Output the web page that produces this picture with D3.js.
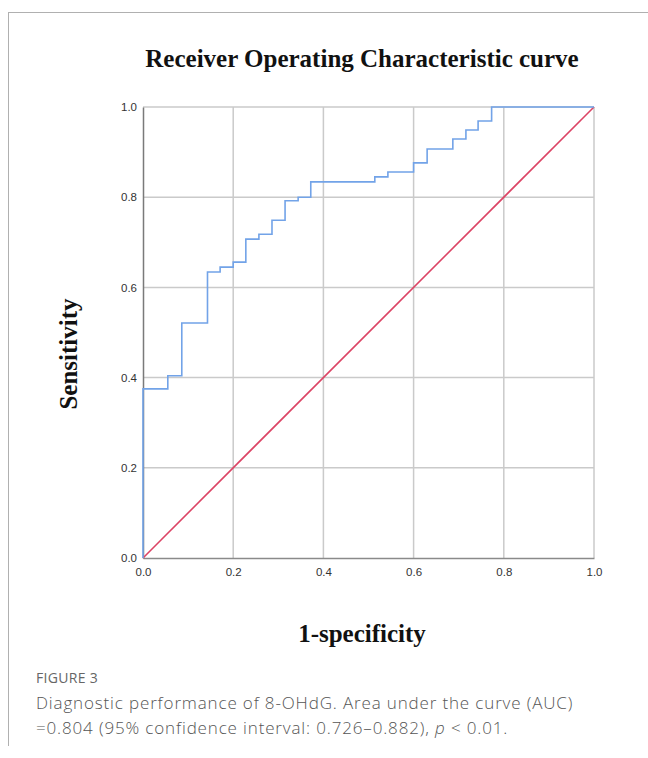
<!DOCTYPE html>
<html>
<head>
<meta charset="utf-8">
<script src="https://cdn.jsdelivr.net/npm/d3@7"></script>
<style>
  body { margin: 0; background: #fff; }
  svg { display: block; }
</style>
</head>
<body>
<div id="chart"></div>
<script>
// ROC step corners
let fpr = [0, 0, 0.055, 0.086, 0.143, 0.171, 0.2, 0.228, 0.257, 0.286, 0.315, 0.344, 0.372, 0.514, 0.543, 0.6, 0.63, 0.687, 0.716, 0.743, 0.773, 1.0];
let tpr = [0, 0.375, 0.404, 0.521, 0.634, 0.645, 0.656, 0.707, 0.718, 0.749, 0.792, 0.800, 0.834, 0.845, 0.856, 0.876, 0.907, 0.929, 0.949, 0.969, 1.0, 1.0];
let refLine = [0, 1];
let ticks = [0, 0.2, 0.4, 0.6, 0.8, 1.0];

let w = 648;
let h = 758;

let svg = d3.select("#chart").append("svg")
  .attr("width", w)
  .attr("height", h);

// frame of the figure box
svg.append("line").attr("x1", 8).attr("x2", w).attr("y1", 12.5).attr("y2", 12.5)
  .attr("stroke", "#b0b0b0").attr("stroke-width", 1);
svg.append("line").attr("x1", 8.5).attr("x2", 8.5).attr("y1", 12).attr("y2", 746)
  .attr("stroke", "#b0b0b0").attr("stroke-width", 1);

let x = d3.scaleLinear().domain([0, 1]).range([143, 594]);
let y = d3.scaleLinear().domain([0, 1]).range([558, 107]);

// grid
let grid = svg.append("g");
grid.selectAll(".gx").data(ticks.slice(1)).enter().append("line")
  .attr("x1", d => x(d)).attr("x2", d => x(d))
  .attr("y1", y(0)).attr("y2", y(1))
  .attr("stroke", "#cacaca").attr("stroke-width", 1.5);
grid.selectAll(".gy").data(ticks.slice(1)).enter().append("line")
  .attr("x1", x(0)).attr("x2", x(1))
  .attr("y1", d => y(d)).attr("y2", d => y(d))
  .attr("stroke", "#cacaca").attr("stroke-width", 1.5);

// axes
let xAxis = svg.append("g")
  .attr("transform", `translate(0,${y(0)})`)
  .call(d3.axisBottom(x).tickValues(ticks).tickFormat(d3.format(".1f")).tickSize(0).tickPadding(10));
let yAxis = svg.append("g")
  .attr("transform", `translate(${x(0)},0)`)
  .call(d3.axisLeft(y).tickValues(ticks).tickFormat(d3.format(".1f")).tickSize(0).tickPadding(6));

xAxis.select(".domain").attr("stroke", "#8a8a8a").attr("stroke-width", 1.5);
yAxis.select(".domain").attr("stroke", "#7a7a7a").attr("stroke-width", 1.5);
svg.selectAll(".tick text")
  .attr("font-family", "Liberation Sans, Arial, sans-serif")
  .attr("font-size", "11.5px")
  .attr("fill", "#333");

// diagonal reference
let line = d3.line().x(d => x(d[0])).y(d => y(d[1]));
svg.append("path")
  .datum(refLine.map(v => [v, v]))
  .attr("d", line)
  .attr("fill", "none")
  .attr("stroke", "#dc4465")
  .attr("stroke-width", 1.6);

// ROC curve
let stepLine = d3.line().x(d => x(d[0])).y(d => y(d[1])).curve(d3.curveStepAfter);
svg.append("path")
  .datum(fpr.map((f, i) => [f, tpr[i]]))
  .attr("d", stepLine)
  .attr("fill", "none")
  .attr("stroke", "#72a3e8")
  .attr("stroke-width", 1.6);

// titles
let serif = "Liberation Serif, Times New Roman, serif";
svg.append("text")
  .attr("x", 362).attr("y", 67)
  .attr("text-anchor", "middle")
  .attr("font-family", serif)
  .attr("font-weight", "bold")
  .attr("font-size", "25px")
  .attr("fill", "#111")
  .text("Receiver Operating Characteristic curve");

svg.append("text")
  .attr("transform", "translate(77,354) rotate(-90)")
  .attr("text-anchor", "middle")
  .attr("font-family", serif)
  .attr("font-weight", "bold")
  .attr("font-size", "25px")
  .attr("fill", "#111")
  .text("Sensitivity");

svg.append("text")
  .attr("x", 362).attr("y", 642)
  .attr("text-anchor", "middle")
  .attr("font-family", serif)
  .attr("font-weight", "bold")
  .attr("font-size", "25px")
  .attr("fill", "#111")
  .text("1-specificity");

// caption
svg.append("text")
  .attr("x", 36).attr("y", 683)
  .attr("font-family", "Open Sans, sans-serif")
  .attr("font-size", "14px")
  .attr("letter-spacing", "0.3px")
  .attr("fill", "#666")
  .text("FIGURE 3");

let cap = svg.append("g")
  .attr("font-family", "Open Sans, sans-serif")
  .attr("font-size", "17px")
  .attr("font-weight", 300)
  .attr("letter-spacing", "0.85px")
  .attr("fill", "#555");
cap.append("text").attr("x", 36).attr("y", 709)
  .text("Diagnostic performance of 8-OHdG. Area under the curve (AUC)");
let l2 = cap.append("text").attr("x", 36).attr("y", 734);
l2.append("tspan").text("=0.804 (95% confidence interval: 0.726\u20130.882), ");
l2.append("tspan").attr("font-style", "italic").text("p");
l2.append("tspan").text(" < 0.01.");
</script>
</body>
</html>
